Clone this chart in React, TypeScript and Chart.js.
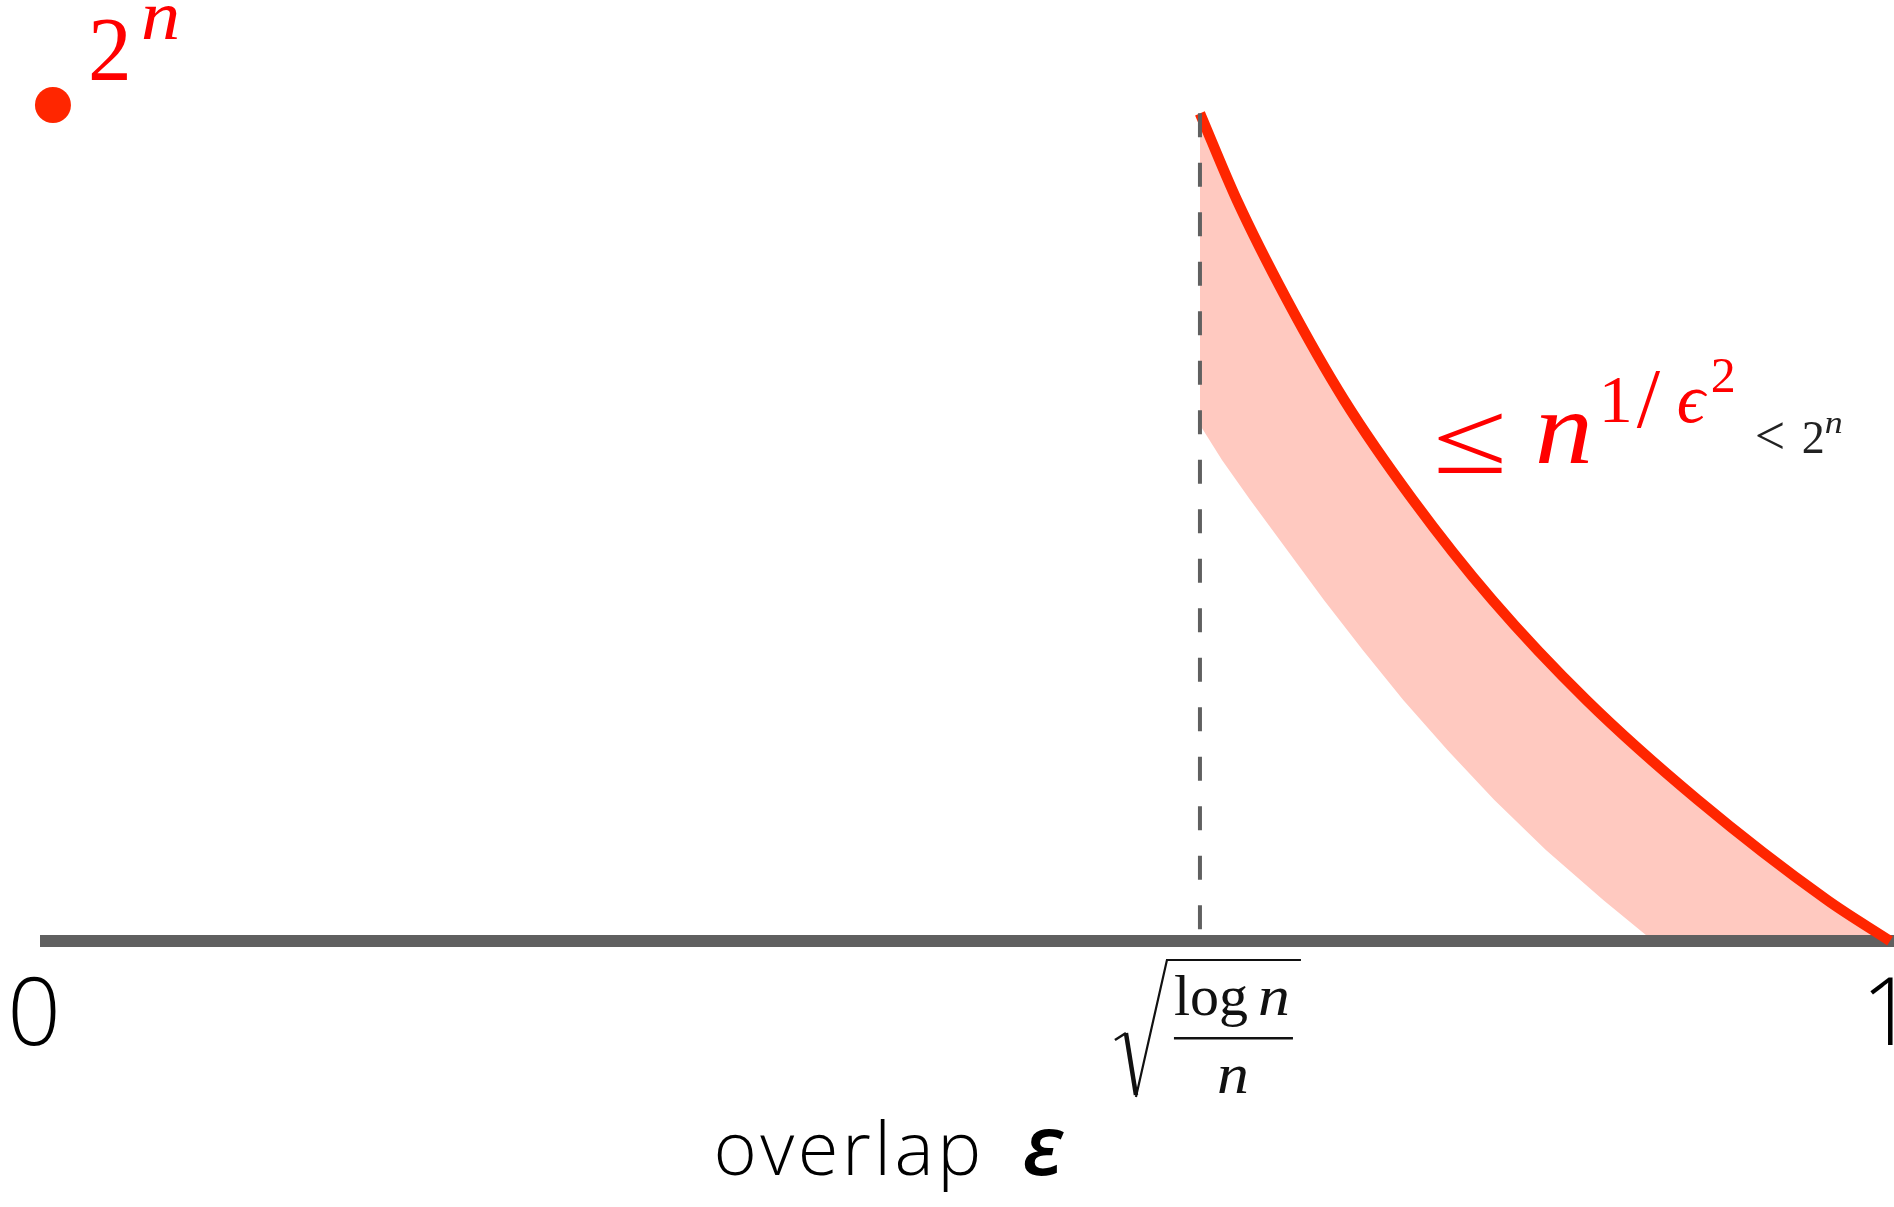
import { useEffect, useRef } from 'react';
import { Chart, registerables } from 'chart.js';

Chart.register(...registerables);

// Overlap threshold sqrt(log n / n), placed on the [0, 1] overlap axis
const EPS_STAR = 0.627;

// Upper bound n^{1/eps^2} (normalised count) for overlaps above the threshold
const UPPER_EPS = [0.627, 0.647, 0.674, 0.705, 0.742, 0.785, 0.836, 0.896, 0.966, 1.0];
const UPPER_COUNT = [0.99, 0.886, 0.767, 0.647, 0.528, 0.408, 0.288, 0.169, 0.049, 0.0];

// Lower edge of the shaded band
const LOWER_EPS = [0.6254, 0.639, 0.654, 0.674, 0.694, 0.715, 0.737, 0.761, 0.786, 0.814, 0.845, 0.872, 1.0];
const LOWER_COUNT = [0.623, 0.575, 0.528, 0.468, 0.408, 0.348, 0.288, 0.228, 0.169, 0.109, 0.049, 0.0, 0.0];

// 2^n codewords at zero overlap
const PEAK_EPS = [0.007];
const PEAK_COUNT = [1.0];

// Horizontal overlap axis
const AXIS_EPS = [0, 1.005];
const AXIS_COUNT = [0, 0];

// Vertical marker at the threshold
const MARKER_COUNT = [0.99, 0.0];

// Tick labels on the overlap axis
const X_TICK_VALUES = [0, 1];
const X_TICK_TEXT = ['0', '1'];
const X_TITLE = 'overlap';
const X_TITLE_SYMBOL = 'ε';

// Anchors for the annotations (overlap, count)
const BOUND_LABEL_AT = [0.755, 0.572];
const TITLE_LEFT_EPS = 0.364;

const RED_LINE = '#ff2600';
const RED_TEXT = '#ff0000';
const BAND = '#ffc9c0';
const GREY = '#606060';

const pts = (xs: number[], ys: number[]) => xs.map((x, i) => ({ x, y: ys[i] }));

const SERIF = '"Liberation Serif", "DejaVu Serif", serif';
const SANS = '"Open Sans", "Noto Sans", sans-serif';

// Draws text stretched horizontally by sx, anchored at its left edge
function wideText(ctx: CanvasRenderingContext2D, text: string, x: number, y: number, sx: number) {
  ctx.save();
  ctx.translate(x, y);
  ctx.scale(sx, 1);
  ctx.fillText(text, 0, 0);
  ctx.restore();
}

const annotate = {
  id: 'annotate',
  afterDraw(chart: any) {
    const { ctx } = chart;
    const xs = chart.scales.x;
    const ys = chart.scales.y;
    ctx.save();
    ctx.textBaseline = 'alphabetic';
    ctx.textAlign = 'left';

    // 2^n beside the peak point
    const px = xs.getPixelForValue(PEAK_EPS[0]);
    const py = ys.getPixelForValue(PEAK_COUNT[0]);
    ctx.fillStyle = RED_TEXT;
    ctx.font = `92px ${SERIF}`;
    wideText(ctx, '2', px + 35, py - 25, 0.95);
    ctx.font = `italic 70px ${SERIF}`;
    wideText(ctx, 'n', px + 88, py - 66, 1.12);

    // ≤ n^{1/ϵ^2} < 2^n
    const lx = xs.getPixelForValue(BOUND_LABEL_AT[0]);
    const ly = ys.getPixelForValue(BOUND_LABEL_AT[1]);
    ctx.font = `104px ${SERIF}`;
    wideText(ctx, '≤', lx - 4, ly + 10, 1.3);
    ctx.font = `italic 104px ${SERIF}`;
    wideText(ctx, 'n', lx + 98, ly, 1.12);
    ctx.font = `68px ${SERIF}`;
    ctx.fillText('1', lx + 162, ly - 41);
    ctx.font = `84px ${SERIF}`;
    ctx.fillText('/', lx + 200, ly - 36);
    ctx.font = `italic 70px ${SERIF}`;
    ctx.fillText('ϵ', lx + 240, ly - 41);
    ctx.font = `50px ${SERIF}`;
    ctx.fillText('2', lx + 274, ly - 71);
    ctx.fillStyle = '#222222';
    ctx.font = `54px ${SERIF}`;
    ctx.fillText('<', lx + 318, ly - 9);
    ctx.font = `46px ${SERIF}`;
    ctx.fillText('2', lx + 365, ly - 10);
    ctx.font = `italic 32px ${SERIF}`;
    wideText(ctx, 'n', lx + 388, ly - 30, 1.12);

    // Axis tick labels
    const y0 = ys.getPixelForValue(0);
    ctx.fillStyle = '#000000';
    ctx.font = `300 94px ${SANS}`;
    ctx.textAlign = 'center';
    ctx.fillText(X_TICK_TEXT[0], xs.getPixelForValue(X_TICK_VALUES[0]) - 6, y0 + 104);
    ctx.fillText(X_TICK_TEXT[1], xs.getPixelForValue(X_TICK_VALUES[1]) - 2, y0 + 104);

    // sqrt(log n / n) under the threshold marker
    const tx = xs.getPixelForValue(EPS_STAR);
    ctx.strokeStyle = '#111111';
    ctx.fillStyle = '#111111';
    ctx.lineJoin = 'miter';
    ctx.lineWidth = 2.5;
    ctx.beginPath();
    ctx.moveTo(tx - 85, y0 + 99);
    ctx.lineTo(tx - 74, y0 + 92);
    ctx.stroke();
    ctx.lineWidth = 4.5;
    ctx.beginPath();
    ctx.moveTo(tx - 74, y0 + 92);
    ctx.lineTo(tx - 64, y0 + 154);
    ctx.stroke();
    ctx.lineWidth = 2.2;
    ctx.beginPath();
    ctx.moveTo(tx - 64, y0 + 156);
    ctx.lineTo(tx - 33, y0 + 19);
    ctx.lineTo(tx + 101, y0 + 19);
    ctx.stroke();
    ctx.textAlign = 'left';
    ctx.font = `58px ${SERIF}`;
    ctx.fillText('log', tx - 26, y0 + 74);
    ctx.font = `italic 58px ${SERIF}`;
    wideText(ctx, 'n', tx + 58, y0 + 74, 1.1);
    ctx.fillRect(tx - 26, y0 + 96, 119, 2.5);
    wideText(ctx, 'n', tx + 17, y0 + 152, 1.1);

    // Axis title
    const tl = xs.getPixelForValue(TITLE_LEFT_EPS);
    ctx.fillStyle = '#000000';
    ctx.font = `300 74px ${SANS}`;
    (ctx as any).letterSpacing = '3.5px';
    ctx.fillText(X_TITLE, tl, y0 + 234);
    const w1 = ctx.measureText(X_TITLE).width;
    (ctx as any).letterSpacing = '0px';
    ctx.font = `italic 600 84px ${SANS}`;
    ctx.fillText(X_TITLE_SYMBOL, tl + w1 + 38, y0 + 234);

    ctx.restore();
  },
};

export default function App() {
  const ref = useRef<HTMLCanvasElement>(null);

  useEffect(() => {
    document.body.style.margin = '0';
    document.body.style.overflow = 'hidden';
    const canvas = ref.current;
    if (!canvas) return;
    const chart = new Chart(canvas, {
      type: 'line',
      data: {
        datasets: [
          {
            // 0: upper bound curve
            data: pts(UPPER_EPS, UPPER_COUNT),
            borderColor: RED_LINE,
            borderWidth: 10.5,
            borderCapStyle: 'butt',
            cubicInterpolationMode: 'monotone',
            pointRadius: 0,
            fill: false,
            order: 2,
            clip: false,
          },
          {
            // 1: shaded band between lower edge and upper curve
            data: pts(LOWER_EPS, LOWER_COUNT),
            borderWidth: 0,
            borderColor: 'rgba(0,0,0,0)',
            backgroundColor: BAND,
            tension: 0,
            pointRadius: 0,
            fill: 0,
            order: 4,
            clip: false,
          },
          {
            // 2: overlap axis
            data: pts(AXIS_EPS, AXIS_COUNT),
            borderColor: GREY,
            borderWidth: 12,
            borderCapStyle: 'butt',
            pointRadius: 0,
            fill: false,
            order: 3,
            clip: false,
          },
          {
            // 3: dashed threshold marker
            data: pts([EPS_STAR, EPS_STAR], MARKER_COUNT),
            borderColor: GREY,
            borderWidth: 4,
            borderDash: [24, 25.5],
            borderCapStyle: 'butt',
            pointRadius: 0,
            fill: false,
            order: 1,
            clip: false,
          },
          {
            // 4: 2^n point
            data: pts(PEAK_EPS, PEAK_COUNT),
            showLine: false,
            pointRadius: 18,
            pointBackgroundColor: RED_LINE,
            pointBorderWidth: 0,
            borderWidth: 0,
            fill: false,
            order: 0,
            clip: false,
          },
        ],
      },
      options: {
        animation: false,
        responsive: false,
        events: [],
        layout: { autoPadding: false, padding: { left: 40, right: 4, top: 105, bottom: 266 } },
        scales: {
          x: { type: 'linear', min: 0, max: 1, display: false },
          y: { type: 'linear', min: 0, max: 1, display: false },
        },
        plugins: {
          legend: { display: false },
          tooltip: { enabled: false },
        },
      },
      plugins: [annotate],
    } as any);
    return () => chart.destroy();
  }, []);

  return (
    <div style={{ width: 1894, height: 1207, background: '#ffffff' }}>
      <canvas ref={ref} width={1894} height={1207} style={{ display: 'block' }} />
    </div>
  );
}
